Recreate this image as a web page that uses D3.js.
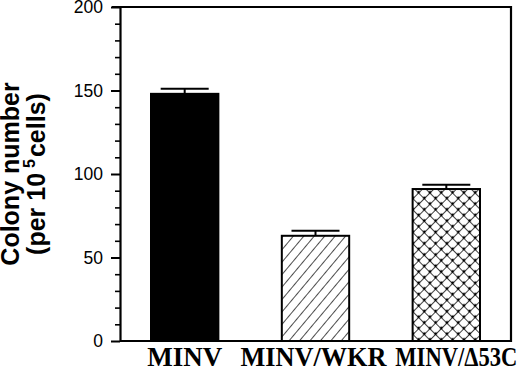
<!DOCTYPE html>
<html><head><meta charset="utf-8">
<script src="https://cdn.jsdelivr.net/npm/d3@7"></script>
<style>body{margin:0;background:#fff}svg{display:block}</style>
</head><body>
<svg id="c" width="520" height="369"></svg>
<script>
const categories = ["MINV", "MINV/WKR", "MINV/\u039453C"];
const means = [148, 63, 91];
const errors = [3, 3, 2.6];
const fills = ["solid", "hatch", "cross"];
const majorTicks = [0, 50, 100, 150, 200];
const minorTicks = [10,20,30,40,60,70,80,90,110,120,130,140,160,170,180,190];

const svg = d3.select("#c");
const L = 120, R = 511, T = 7, B = 341;
const y = d3.scaleLinear().domain([0, 200]).range([B, T]);
const x = d3.scaleBand().domain(categories).range([L, R]).paddingInner(0.485).paddingOuter(0.237);

const defs = svg.append("defs");
const hp = defs.append("pattern").attr("id","hatch").attr("patternUnits","userSpaceOnUse")
  .attr("width",8).attr("height",8).attr("patternTransform","rotate(40)");
hp.append("rect").attr("width",8).attr("height",8).attr("fill","#fff");
hp.append("line").attr("x1",0).attr("y1",0).attr("x2",0).attr("y2",8).attr("stroke","#000").attr("stroke-width",1.4);

const cp = defs.append("pattern").attr("id","cross").attr("patternUnits","userSpaceOnUse")
  .attr("width",8).attr("height",8).attr("patternTransform","rotate(45)");
cp.append("rect").attr("width",8).attr("height",8).attr("fill","#fff");
cp.append("line").attr("x1",0).attr("y1",0).attr("x2",0).attr("y2",8).attr("stroke","#000").attr("stroke-width",1.5);
cp.append("line").attr("x1",0).attr("y1",0).attr("x2",8).attr("y2",0).attr("stroke","#000").attr("stroke-width",1.5);
[[0,0],[8,0],[0,8],[8,8]].forEach(p=>cp.append("circle").attr("cx",p[0]).attr("cy",p[1]).attr("r",1.4).attr("fill","#000"));

// frame top/right/bottom
svg.append("path").attr("d", `M${L-8},${T}H${R}V${B}H${L}`).attr("fill","none").attr("stroke","#000").attr("stroke-width",2.2);

const data = categories.map((c,i)=>({c, m:means[i], e:errors[i], f:fills[i]}));
const bw = x.bandwidth();
const capW = 48;
data.forEach(d=>{
  const cx = x(d.c) + bw/2;
  svg.append("line").attr("x1",cx).attr("x2",cx).attr("y1",y(d.m)).attr("y2",y(d.m+d.e)).attr("stroke","#000").attr("stroke-width",2);
  svg.append("line").attr("x1",cx-capW/2).attr("x2",cx+capW/2).attr("y1",y(d.m+d.e)).attr("y2",y(d.m+d.e)).attr("stroke","#000").attr("stroke-width",2);
});
svg.selectAll("rect.bar").data(data).enter().append("rect").attr("class","bar")
  .attr("x", d=>x(d.c)).attr("width", bw)
  .attr("y", d=>y(d.m)).attr("height", d=>y(0)-y(d.m))
  .attr("fill", d=> d.f==="solid" ? "#000" : `url(#${d.f})`)
  .attr("stroke","#000").attr("stroke-width",2);

// axes
const ax = svg.append("g").attr("transform",`translate(${L},0)`)
  .call(d3.axisLeft(y).tickValues(majorTicks).tickSize(9).tickSizeOuter(0).tickPadding(8));
ax.select(".domain").attr("stroke-width",2.2);
ax.selectAll(".tick line").attr("stroke-width",2);
ax.selectAll(".tick text").attr("font-family","'Liberation Sans', Arial, sans-serif").attr("font-size",17.5).attr("fill","#000");
const mx = svg.append("g").attr("transform",`translate(${L},0)`)
  .call(d3.axisLeft(y).tickValues(minorTicks).tickSize(5).tickFormat(""));
mx.select(".domain").remove();
mx.selectAll(".tick line").attr("stroke-width",1.6);

// x labels (fitted widths / shifts as in the reference)
const lblLen = [75, 146, 122];
const lblShift = [0, -2, 10];
svg.selectAll("text.xl").data(categories).enter().append("text").attr("class","xl")
  .attr("x", (d,i)=>x(d)+bw/2+lblShift[i]).attr("y", 366).attr("text-anchor","middle")
  .attr("font-family","'Liberation Serif', 'Times New Roman', serif").attr("font-weight","bold").attr("font-size",27)
  .attr("textLength",(d,i)=>lblLen[i]).attr("lengthAdjust","spacingAndGlyphs")
  .text(d=>d);

// y label
const yl = svg.append("g").attr("transform","translate(0,174) rotate(-90)")
  .attr("font-family","'Liberation Sans', Arial, sans-serif").attr("font-weight","bold").attr("font-size",25).attr("text-anchor","middle");
yl.append("text").attr("x",0).attr("y",19).text("Colony number");
const t2 = yl.append("text").attr("x",0).attr("y",45);
t2.append("tspan").text("(per 10");
t2.append("tspan").attr("dy",-10).attr("dx",5).attr("font-size",16).text("5");
t2.append("tspan").attr("dy",10).attr("dx",2).text("cells)");
</script>
</body></html>
